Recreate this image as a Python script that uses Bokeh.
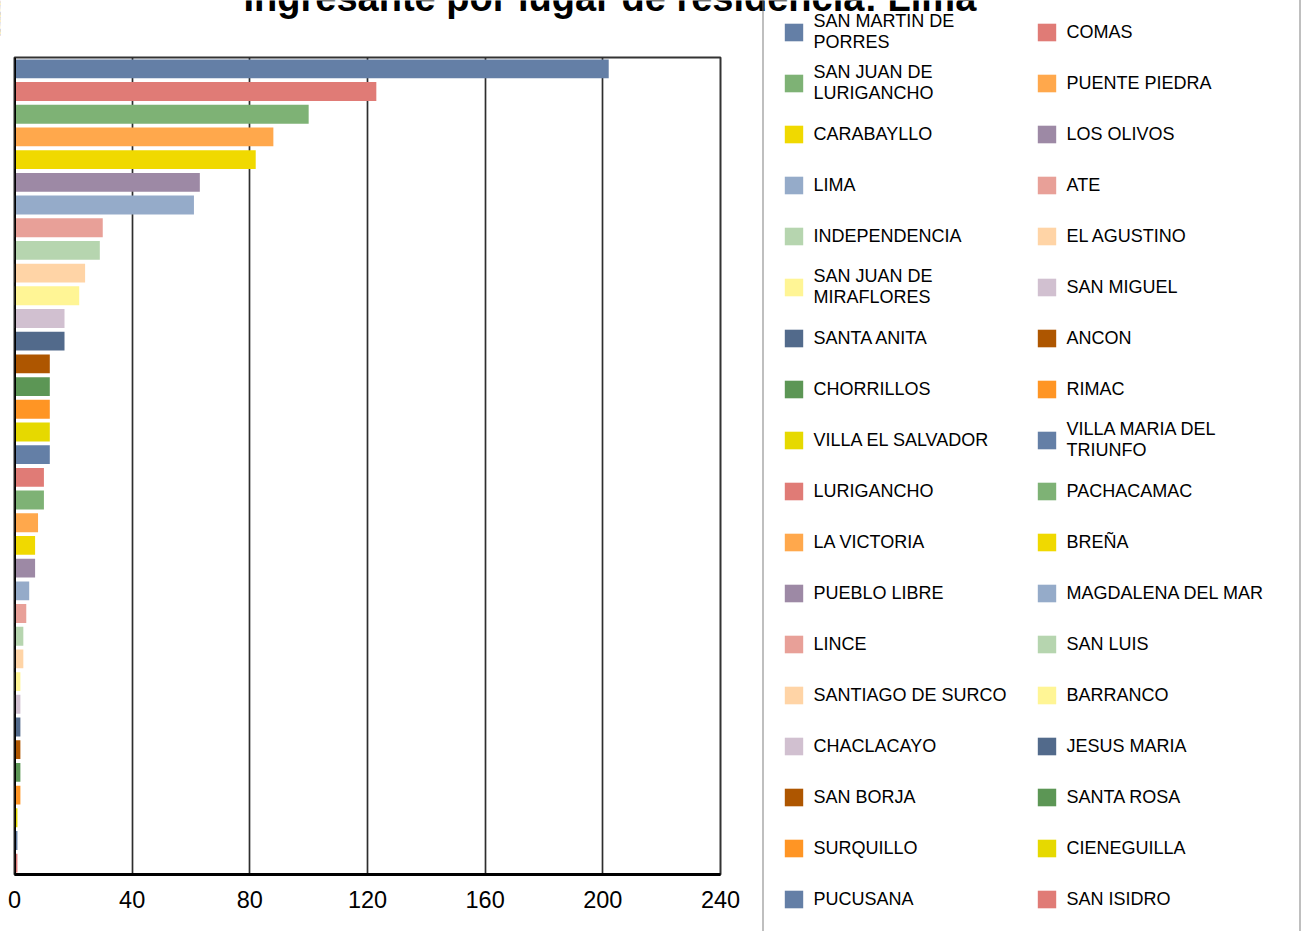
import textwrap
from bokeh.plotting import figure
from bokeh.layouts import row
from bokeh.models import (ColumnDataSource, FactorRange, Range1d, FixedTicker,
                          Legend, LegendItem, Label, Span)
from bokeh.embed import file_html
from bokeh.resources import INLINE

title_text = "Ingresante por lugar de residencia: Lima"

districts = [
    "SAN MARTIN DE PORRES", "COMAS", "SAN JUAN DE LURIGANCHO", "PUENTE PIEDRA",
    "CARABAYLLO", "LOS OLIVOS", "LIMA", "ATE", "INDEPENDENCIA", "EL AGUSTINO",
    "SAN JUAN DE MIRAFLORES", "SAN MIGUEL", "SANTA ANITA", "ANCON", "CHORRILLOS",
    "RIMAC", "VILLA EL SALVADOR", "VILLA MARIA DEL TRIUNFO", "LURIGANCHO",
    "PACHACAMAC", "LA VICTORIA", "BREÑA", "PUEBLO LIBRE", "MAGDALENA DEL MAR",
    "LINCE", "SAN LUIS", "SANTIAGO DE SURCO", "BARRANCO", "CHACLACAYO",
    "JESUS MARIA", "SAN BORJA", "SANTA ROSA", "SURQUILLO", "CIENEGUILLA",
    "PUCUSANA", "SAN ISIDRO",
]
values = [202, 123, 100, 88, 82, 63, 61, 30, 29, 24, 22, 17, 17, 12, 12, 12, 12, 12,
          10, 10, 8, 7, 7, 5, 4, 3, 3, 2, 2, 2, 2, 2, 2, 1, 1, 1]

palette = ["#647FA6", "#E07B76", "#7EB275", "#FFA84C", "#F0D900", "#9D89A5",
           "#95ABC9", "#E8A098", "#B6D5AF", "#FFD4A6", "#FFF595", "#D1C0D0",
           "#526A8B", "#AE5600", "#5C9655", "#FF9524", "#E6D900"]
colors = [palette[i % len(palette)] for i in range(len(districts))]

x_ticks = [0, 40, 80, 120, 160, 200, 240]

W, H = 1304, 931
src = ColumnDataSource(dict(district=districts, value=values, color=colors,
                            pos=list(range(len(districts)))))

# ---------------- main chart ----------------
p = figure(width=W, height=H, output_backend="svg", toolbar_location=None,
           y_range=FactorRange(*reversed(districts)), x_range=Range1d(0, 240),
           min_border_left=14, min_border_right=584, min_border_top=57,
           min_border_bottom=57, background_fill_color="white",
           border_fill_color="white")

bars = p.hbar(y="district", right="value", left=0, height=0.83, fill_color="color",
              line_color=None, source=src)

p.yaxis.visible = False
p.ygrid.visible = False

p.xaxis.ticker = FixedTicker(ticks=x_ticks)
p.xaxis.axis_line_width = 3
p.xaxis.axis_line_color = "black"
p.xaxis.major_tick_out = 0
p.xaxis.major_tick_in = 0
p.xaxis.minor_tick_out = 0
p.xaxis.minor_tick_in = 0
p.xaxis.major_label_text_font = "Liberation Sans"
p.xaxis.major_label_text_font_size = "23.5px"
p.xaxis.major_label_text_color = "black"
p.xaxis.major_label_standoff = 16

p.xgrid.ticker = FixedTicker(ticks=x_ticks)
p.xgrid.grid_line_color = "#2e2e2e"
p.xgrid.grid_line_width = 1.7

p.outline_line_color = "#333333"
p.outline_line_width = 2

p.add_layout(Span(location=0, dimension="height", line_color="black", line_width=3))

# ---------------- overlay: title + legend ----------------
ov = figure(width=W, height=H, output_backend="svg", toolbar_location=None,
            x_range=Range1d(0, W), y_range=Range1d(H, 0),
            x_axis_type=None, y_axis_type=None,
            min_border_left=0, min_border_right=0, min_border_top=0,
            min_border_bottom=0)
ov.grid.visible = False
ov.outline_line_color = None
ov.background_fill_alpha = 0
ov.border_fill_alpha = 0
ov.margin = (0, 0, 0, -W)

for fig in (p, ov):
    if "frame_align" in fig.properties():
        fig.frame_align = False

# legend-only copy of the bars, mapped far outside the visible overlay area
ov.extra_x_ranges = {"off": Range1d(10000, 10001)}
lbars = ov.hbar(y="pos", right="value", left=0, height=0.83, fill_color="color",
                line_color=None, source=src, x_range_name="off")

items = [LegendItem(label=textwrap.fill(d, 17), renderers=[lbars], index=i)
         for i, d in enumerate(districts)]
legend = Legend(items=items, orientation="horizontal", ncols=2,
                location=(761.5, -10), glyph_width=23, glyph_height=22,
                label_standoff=9, label_width=214, label_height=44, spacing=7,
                padding=18, border_line_color="#808080", border_line_width=2,
                background_fill_color=None,
                label_text_font="Liberation Sans", label_text_font_size="18px",
                label_text_color="black", label_text_line_height=1.1)
ov.add_layout(legend)

ov.add_layout(Label(x=609.4, y=-2.5, text=title_text, text_align="center",
                    text_baseline="alphabetic", text_font="Liberation Sans",
                    text_font_style="bold", text_font_size="38px",
                    text_color="black"))

layout = row(p, ov)
open("out.html", "w").write(file_html(layout, INLINE))
